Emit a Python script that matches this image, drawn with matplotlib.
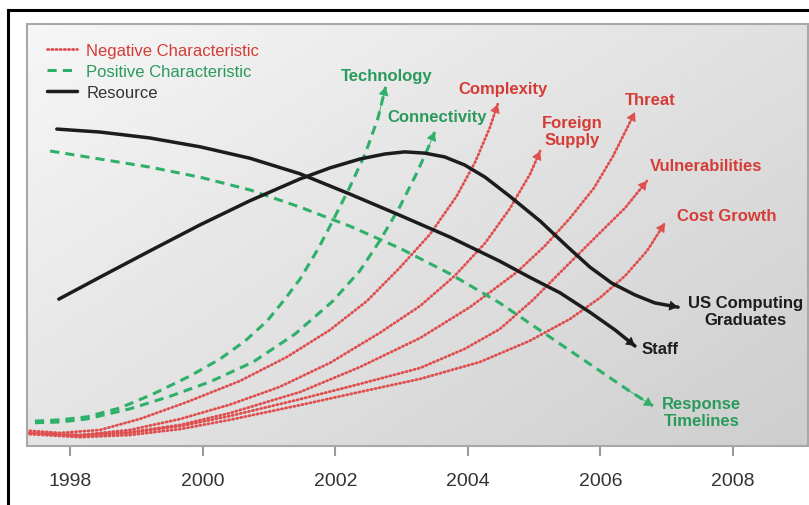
import numpy as np
import matplotlib.pyplot as plt
from matplotlib.lines import Line2D

# trend curves: year vs. relative level (0-100)
staff_x = [1997.80, 1998.45, 1999.20, 1999.96, 2000.71, 2001.47, 2002.22, 2002.97,
           2003.73, 2004.48, 2004.93, 2005.39, 2005.84, 2006.22, 2006.52]
staff_y = [75.1, 74.4, 73.0, 70.9, 68.2, 64.5, 59.7, 54.7, 49.5, 43.8, 40.0, 36.3,
           31.7, 27.5, 23.7]

grads_x = [1997.83, 1998.45, 1999.20, 1999.96, 2000.71, 2001.47, 2001.92, 2002.37,
           2002.75, 2003.05, 2003.35, 2003.65, 2003.95, 2004.26, 2004.63, 2005.09,
           2005.49, 2005.84, 2006.17, 2006.52, 2006.82, 2007.17]
grads_y = [34.8, 40.0, 46.2, 52.4, 58.1, 63.3, 65.9, 68.0, 69.2, 69.7, 69.4, 68.5,
           66.6, 63.7, 59.2, 53.3, 47.4, 42.4, 38.6, 35.8, 33.9, 32.9]

response_x = [1997.70, 1998.45, 1999.20, 1999.96, 2000.71, 2001.47, 2002.22, 2002.97,
              2003.73, 2004.48, 2005.24, 2005.99, 2006.44, 2006.79]
response_y = [69.9, 68.0, 66.1, 63.7, 60.7, 56.6, 52.1, 46.9, 40.8, 33.9, 25.8, 17.8,
              13.0, 9.5]

tech_x = [1997.47, 1997.85, 1998.25, 1998.75, 1999.25, 1999.81, 2000.26, 2000.64,
          2000.97, 2001.24, 2001.47, 2001.74, 2001.96, 2002.22, 2002.45, 2002.64, 2002.76]
tech_y = [5.9, 6.2, 6.9, 9.0, 12.3, 16.6, 20.6, 24.9, 29.6, 34.8, 39.6, 46.7, 53.3,
          61.4, 69.2, 77.5, 85.1]

conn_x = [1997.47, 1997.85, 1998.25, 1998.90, 1999.51, 2000.11, 2000.76, 2001.39,
          2001.96, 2002.37, 2002.67, 2002.97, 2003.23, 2003.38, 2003.50]
conn_y = [5.5, 5.7, 6.4, 8.8, 11.8, 15.2, 19.9, 26.5, 34.3, 41.5, 48.6, 56.6, 64.7,
          69.9, 74.4]

complexity_x = [1997.39, 1997.85, 1998.45, 1999.05, 1999.76, 2000.56, 2001.27, 2001.92,
                2002.48, 2002.97, 2003.43, 2003.83, 2004.11, 2004.33, 2004.45]
complexity_y = [3.6, 3.1, 3.8, 6.4, 10.4, 15.4, 21.1, 27.5, 34.4, 42.2, 50.2, 59.2,
                67.3, 75.4, 81.0]

foreign_x = [1997.39, 1998.15, 1998.90, 1999.66, 2000.41, 2001.16, 2001.92, 2002.67,
             2003.28, 2003.80, 2004.26, 2004.63, 2004.94, 2005.09]
foreign_y = [3.1, 2.6, 3.8, 6.4, 9.8, 14.0, 19.7, 26.8, 33.2, 40.3, 48.1, 56.2, 64.5,
             69.9]

threat_x = [1997.39, 1998.15, 1998.90, 1999.66, 2000.41, 2001.47, 2002.37, 2003.28,
            2004.03, 2004.74, 2005.16, 2005.54, 2005.90, 2006.19, 2006.52]
threat_y = [3.1, 2.6, 3.3, 5.0, 7.8, 12.8, 18.7, 25.6, 32.9, 41.2, 47.4, 54.0, 61.1,
            68.7, 79.1]

vuln_x = [1997.39, 1998.15, 1998.90, 1999.66, 2000.41, 2001.47, 2002.37, 2003.28,
          2003.95, 2004.48, 2004.98, 2005.46, 2005.99, 2006.37, 2006.70]
vuln_y = [3.1, 2.4, 3.1, 4.7, 7.1, 11.1, 14.7, 18.5, 23.0, 27.7, 34.6, 42.2, 50.5,
          56.4, 62.8]

cost_x = [1997.39, 1998.15, 1998.90, 1999.66, 2000.41, 2001.47, 2002.37, 2003.28,
          2004.18, 2004.93, 2005.54, 2005.99, 2006.37, 2006.70, 2006.97]
cost_y = [2.8, 2.1, 2.6, 4.0, 6.2, 9.7, 12.8, 15.9, 19.9, 24.9, 30.1, 35.1, 40.3,
          46.2, 52.8]

years = [1998, 2000, 2002, 2004, 2006, 2008]

RED = "#df4f4f"
GREEN = "#2fb06a"
BLACK = "#1c1c1c"
RED_TXT = "#d63b36"
GREEN_TXT = "#2a9a5c"

dotted = dict(color=RED, lw=2.0, linestyle=(0, (0.45, 1.05)), dash_capstyle="round")
dashed = dict(color=GREEN, lw=2.2, linestyle=(0, (3, 2)))
solid = dict(color=BLACK, lw=2.5, solid_capstyle="round", solid_joinstyle="round")

fig = plt.figure(figsize=(8.09, 5.06), dpi=100)
W, H = 809, 506
ax = fig.add_axes([27 / W, 1 - 447 / H, (808 - 27) / W, (447 - 25) / H])
ax.set_xlim(1997.35, 2009.13)
ax.set_ylim(0, 100)

# shaded background, light in the upper left and darker toward the lower right
u = np.linspace(0, 1, 300)[None, :]
v = np.linspace(0, 1, 200)[:, None]
shade = 0.965 - 0.16 * (0.55 * u + 0.45 * v)
ax.imshow(shade, cmap="gray", vmin=0, vmax=1, extent=[0, 1, 0, 1],
          transform=ax.transAxes, aspect="auto", zorder=0, origin="upper")


def curve(x, y, style):
    ax.plot(x, y, zorder=2, **style)
    ax.annotate("", xy=(x[-1], y[-1]), xytext=(x[-2], y[-2]),
                arrowprops=dict(arrowstyle="-|>,head_length=0.6,head_width=0.35",
                                color=style["color"], lw=0.6, mutation_scale=9,
                                shrinkA=0, shrinkB=0), zorder=3)


for cx, cy in [(complexity_x, complexity_y), (foreign_x, foreign_y), (threat_x, threat_y),
               (vuln_x, vuln_y), (cost_x, cost_y)]:
    curve(cx, cy, dotted)
for cx, cy in [(tech_x, tech_y), (conn_x, conn_y), (response_x, response_y)]:
    curve(cx, cy, dashed)
for cx, cy in [(staff_x, staff_y), (grads_x, grads_y)]:
    curve(cx, cy, solid)

lab = dict(fontsize=12, fontweight="bold", family="Liberation Sans", ha="center",
           va="center", linespacing=1.15, zorder=4)
ax.text(2002.78, 87.9, "Technology", color=GREEN_TXT, **lab)
ax.text(2003.53, 78.0, "Connectivity", color=GREEN_TXT, **lab)
ax.text(2004.53, 84.6, "Complexity", color=RED_TXT, **lab)
ax.text(2005.58, 74.6, "Foreign\nSupply", color=RED_TXT, **lab)
ax.text(2006.75, 82.2, "Threat", color=RED_TXT, **lab)
ax.text(2007.59, 66.4, "Vulnerabilities", color=RED_TXT, **lab)
ax.text(2007.91, 54.7, "Cost Growth", color=RED_TXT, **lab)
ax.text(2008.19, 32.0, "US Computing\nGraduates", color=BLACK, **lab)
ax.text(2007.53, 8.1, "Response\nTimelines", color=GREEN_TXT, **lab)
ax.text(2006.62, 23.0, "Staff", color=BLACK, **{**lab, "ha": "left"})

handles = [Line2D([], [], **dotted), Line2D([], [], **dashed), Line2D([], [], **solid)]
leg = ax.legend(handles, ["Negative Characteristic", "Positive Characteristic", "Resource"],
                loc="upper left", bbox_to_anchor=(47 / W, 1 - 44 / H),
                bbox_transform=fig.transFigure, frameon=False, handlelength=1.8,
                handletextpad=0.55, labelspacing=0.36, borderpad=0, borderaxespad=0,
                prop=dict(family="Liberation Sans", size=12))
for t, c in zip(leg.get_texts(), [RED_TXT, GREEN_TXT, "#333333"]):
    t.set_color(c)

ax.set_xticks(years)
ax.set_xticklabels([str(y) for y in years], family="Liberation Sans", fontsize=14,
                   color="#333333")
ax.set_yticks([])
ax.tick_params(axis="x", direction="out", length=7, width=1.5, color="#9a9a9a", pad=12)
for s in ax.spines.values():
    s.set_color("#a8a8a8")
    s.set_linewidth(1.5)

# outer frame along the top and left edges
fig.add_artist(Line2D([8 / W, 8 / W], [0, 1 - 11 / H], color="black", lw=2.2))
fig.add_artist(Line2D([8 / W, 1], [1 - 11 / H, 1 - 11 / H], color="black", lw=2.2))

fig.savefig("out.png", dpi=100)
